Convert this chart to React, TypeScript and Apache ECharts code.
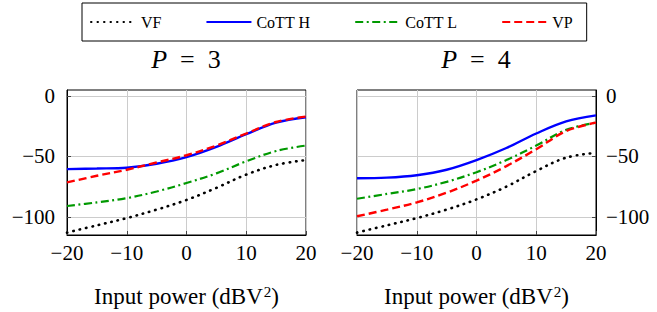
import React, { useEffect, useRef } from 'react';
import * as echarts from 'echarts';

const xValues = [-20, -15, -10, -5, 0, 5, 10, 15, 20];
const xTicks = [-20, -10, 0, 10, 20];
const yTicks = [-100, -50, 0];
const panelTitles = ['3', '4'];

// P = 3
const p3VF = [-113, -107, -101, -94, -86, -76, -65, -57, -53];
const p3CoTTH = [-60.5, -60, -59.3, -56, -50.5, -42, -31.5, -22, -17.5];
const p3CoTTL = [-91, -88, -84.5, -79, -72, -64, -54, -45.5, -41];
const p3VP = [-71.5, -66, -61, -55, -49, -41, -31, -21.5, -17];

// P = 4
const p4VF = [-113, -107, -101, -94, -85.5, -75, -62, -51, -47];
const p4CoTTH = [-68, -67.5, -65.5, -61, -53, -43, -31, -21, -16];
const p4CoTTL = [-85, -81, -77, -71, -63, -53, -41, -28, -22];
const p4VP = [-99.5, -94, -88, -80, -70, -58, -44, -29, -22];

const FONT = '"Liberation Serif", "Times New Roman", serif';

const styles: Record<string, any> = {
  VF: { color: '#000000', width: 2.6, type: [0.5, 6], cap: 'round' },
  'CoTT H': { color: '#0000ff', width: 2.4, type: 'solid', cap: 'butt' },
  'CoTT L': { color: '#009900', width: 2.2, type: [8, 3.5, 2, 3.5], cap: 'butt' },
  VP: { color: '#ff0000', width: 2.4, type: [8, 4], cap: 'butt' },
};

const minus = (v: number) => String(v).replace('-', '\u2212');

function mkSeries(name: string, vals: number[], idx: number) {
  const s = styles[name];
  return {
    name,
    type: 'line',
    xAxisIndex: idx,
    yAxisIndex: idx,
    data: xValues.map((x, i) => [x, vals[i]]),
    smooth: 0.35,
    symbol: 'none',
    showSymbol: false,
    color: s.color,
    lineStyle: { color: s.color, width: s.width, type: s.type, cap: s.cap },
    z: name === 'VP' ? 4 : 3,
  };
}

function mkX(idx: number) {
  return {
    type: 'value',
    gridIndex: idx,
    min: -20,
    max: 20,
    interval: 10,
    name: 'Input power (dBV{sup|2})',
    nameLocation: 'middle',
    nameGap: 49,
    nameTextStyle: {
      fontFamily: FONT,
      fontSize: 23,
      color: '#000',
      rich: { sup: { fontFamily: FONT, fontSize: 15, color: '#000', verticalAlign: 'bottom', padding: [0, 0, 10, 1] } },
    },
    axisLine: { show: true, onZero: false, lineStyle: { color: '#000', width: 1 } },
    axisTick: { show: true, inside: true, length: 4, lineStyle: { color: '#444' } },
    splitLine: { show: true, lineStyle: { color: '#cccccc', width: 1 } },
    axisLabel: {
      fontFamily: FONT,
      fontSize: 21,
      color: '#000',
      margin: 7,
      customValues: xTicks,
      formatter: (v: number) => minus(v),
    },
  };
}

function mkY(idx: number) {
  return {
    type: 'value',
    gridIndex: idx,
    min: -115,
    max: 5,
    position: idx === 0 ? 'left' : 'right',
    axisLine: { show: true, onZero: false, lineStyle: { color: '#000', width: 1 } },
    axisTick: { show: true, inside: true, length: 4, lineStyle: { color: '#444' }, customValues: yTicks },
    splitLine: { show: true, lineStyle: { color: '#cccccc', width: 1 } },
    axisLabel: {
      fontFamily: FONT,
      fontSize: 21,
      color: '#000',
      margin: idx === 0 ? 12 : 10,
      customValues: yTicks,
      formatter: (v: number) => minus(v),
    },
  };
}

function titleText(x: number, label: string) {
  return {
    type: 'text',
    x,
    y: 59,
    style: {
      text: '{i|P}\u2002=\u2002' + label,
      fontFamily: FONT,
      fontSize: 26,
      fill: '#000',
      align: 'center',
      verticalAlign: 'middle',
      rich: { i: { fontStyle: 'italic', fontFamily: FONT, fontSize: 26 } },
    },
  };
}

export default function App() {
  const ref = useRef<HTMLDivElement>(null);
  useEffect(() => {
    if (!ref.current) return;
    const chart = echarts.init(ref.current, undefined, { renderer: 'svg' });
    const option: any = {
      animation: false,
      backgroundColor: '#ffffff',
      legend: {
        show: true,
        left: 82,
        top: 3,
        orient: 'horizontal',
        padding: [11, 14, 11, 8],
        itemGap: 44,
        itemWidth: 45,
        itemHeight: 14,
        borderColor: '#000',
        borderWidth: 1,
        borderRadius: 0,
        itemStyle: { opacity: 0 },
        data: ['VF', 'CoTT H', 'CoTT L', 'VP'],
        textStyle: { fontFamily: FONT, fontSize: 16, color: '#000' },
      },
      grid: [
        { left: 67, top: 90, width: 239, height: 145, show: true, borderColor: '#000', borderWidth: 1 },
        { left: 357, top: 90, width: 239, height: 145, show: true, borderColor: '#000', borderWidth: 1 },
      ],
      xAxis: [mkX(0), mkX(1)],
      yAxis: [mkY(0), mkY(1)],
      graphic: [titleText(186, panelTitles[0]), titleText(476, panelTitles[1])],
      series: [
        mkSeries('VF', p3VF, 0),
        mkSeries('CoTT H', p3CoTTH, 0),
        mkSeries('CoTT L', p3CoTTL, 0),
        mkSeries('VP', p3VP, 0),
        mkSeries('VF', p4VF, 1),
        mkSeries('CoTT H', p4CoTTH, 1),
        mkSeries('CoTT L', p4CoTTL, 1),
        mkSeries('VP', p4VP, 1),
      ],
    };
    chart.setOption(option);
    return () => chart.dispose();
  }, []);
  return (
    <div
      ref={ref}
      style={{ position: 'fixed', left: 0, top: 0, width: 657, height: 312, background: '#fff' }}
    />
  );
}
